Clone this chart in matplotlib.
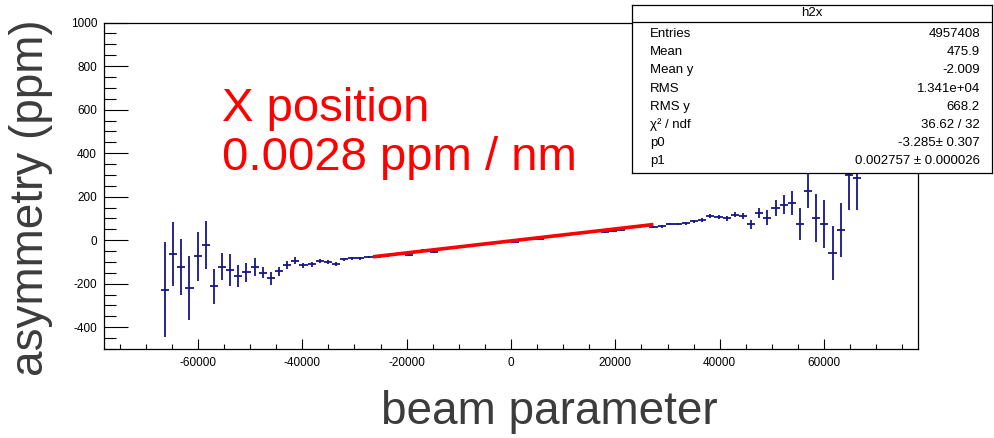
import numpy as np
import matplotlib
matplotlib.use("Agg")
import matplotlib.pyplot as plt
from matplotlib.ticker import MultipleLocator

plt.rcParams['font.family'] = ['Liberation Sans', 'DejaVu Sans']
plt.rcParams['axes.unicode_minus'] = False

# profile histogram h2x: 100 bins from -78000 to 78000, filled bins 7..92
N_BINS = 100
X_MIN, X_MAX = -78000, 78000
FIRST_BIN = 7

asym = [-227, -64, -123, -221, -74, -23, -212, -121, -137, -164, -147, -123, -150,
        -176, -143, -115, -94, -116, -111, -94, -100, -109, -88, -84, -84, -77,
        -76, -72, -64, -60, -66, -53, -47, -53, -39, -37, -30, -27, -24, -17,
        -15, -10, -4, -9, 4, 6, 4, 17, 21, 23, 30, 33, 36, 43, 39, 44, 48, 60,
        62, 69,
        61, 64, 74, 74, 77, 87, 93, 112, 106, 100, 118, 111, 73, 125, 104, 146,
        164, 172, 74, 227, 103, 74, -58, 46, 300, 284]
asym_err = [218, 147, 127, 148, 113, 111, 80, 62, 72, 52, 44, 41, 25, 28, 21, 18,
            15, 10, 10, 9, 8, 8, 7, 6, 6, 6,
            6, 6, 5, 5, 5, 5, 5, 5, 5, 5, 5, 5, 5, 5, 5, 5, 5, 5, 5, 5, 5, 5, 5,
            5, 5, 5, 5, 5, 5, 5, 6, 6, 6, 6,
            6, 6, 6, 6, 7, 7, 8, 8, 9, 10, 11, 13, 20, 23, 33, 37, 45, 54, 75, 78,
            111, 112, 124, 124, 160, 143]

# linear fit pol1
p0 = -3.285
p1 = 0.002757
fit_range = [-26100, 26950]

stat_names = ["Entries", "Mean", "Mean y", "RMS", "RMS y", "\u03c7\u00b2 / ndf", "p0", "p1"]
stat_values = ["4957408", "475.9", "-2.009", "1.341e+04", "668.2", "36.62 / 32",
               "-3.285\u00b1 0.307", "0.002757 \u00b1 0.000026"]

W, H = 995, 438
fig = plt.figure(figsize=(W / 100, H / 100), dpi=100)
ax = fig.add_axes([104 / W, 1 - 349 / H, (918 - 104) / W, (349 - 22.6) / H])

edges = np.linspace(X_MIN, X_MAX, N_BINS + 1)
centers = 0.5 * (edges[:-1] + edges[1:])
xs = centers[FIRST_BIN:FIRST_BIN + len(asym)]
half_w = (edges[1] - edges[0]) / 2

navy = '#161688'
ax.errorbar(xs, asym, yerr=asym_err, xerr=half_w, fmt='none',
            ecolor=navy, elinewidth=1.3, capsize=0, zorder=2)

fx = np.array(fit_range)
ax.plot(fx, p0 + p1 * fx, color='red', lw=2.6, zorder=3)

ax.set_xlim(X_MIN, X_MAX)
ax.set_ylim(-500, 1000)
ax.xaxis.set_major_locator(MultipleLocator(20000))
ax.xaxis.set_minor_locator(MultipleLocator(5000))
ax.yaxis.set_major_locator(MultipleLocator(200))
ax.yaxis.set_minor_locator(MultipleLocator(50))
ax.tick_params(axis='y', which='major', direction='in', length=17.3, width=0.8,
               labelsize=8.5, pad=5, right=False)
ax.tick_params(axis='y', which='minor', direction='in', length=8.6, width=0.8)
ax.tick_params(axis='x', which='major', direction='in', length=7, width=0.8,
               labelsize=8.5, pad=6, top=False)
ax.tick_params(axis='x', which='minor', direction='in', length=3.5, width=0.8)
ax.set_yticks([-400, -200, 0, 200, 400, 600, 800, 1000])
for s in ax.spines.values():
    s.set_linewidth(0.9)

fig.text(222 / W, 1 - 121 / H, "X position", color='red', fontsize=34,
         ha='left', va='baseline')
fig.text(222 / W, 1 - 170 / H, "0.0028 ppm / nm", color='red', fontsize=34,
         ha='left', va='baseline')

fig.text(549 / W, 1 - 424 / H, "beam parameter", color='#3c3c3c', fontsize=33,
         ha='center', va='baseline')
fig.text(31 / W, 1 - 197.5 / H, "asymmetry (ppm)", color='#3c3c3c', fontsize=33,
         ha='center', va='center', rotation=90)

# stats box
bx0, bx1, by0, by1 = 632, 992, 5, 173
sax = fig.add_axes([bx0 / W, 1 - by1 / H, (bx1 - bx0) / W, (by1 - by0) / H])
sax.set_xticks([])
sax.set_yticks([])
sax.set_facecolor('white')
for s in sax.spines.values():
    s.set_linewidth(0.9)
bh = by1 - by0
sax.axhline((by1 - 22) / bh, color='black', lw=0.9)
sax.text(0.5, (by1 - 13) / bh, "h2x", fontsize=9.5, ha='center', va='center')
for i, (n, v) in enumerate(zip(stat_names, stat_values)):
    yy = (by1 - (34 + 18.2 * i)) / bh
    sax.text(18 / (bx1 - bx0), yy, n, fontsize=9.5, ha='left', va='center')
    sax.text((980 - bx0) / (bx1 - bx0), yy, v, fontsize=9.5, ha='right', va='center')

fig.savefig("out.png", dpi=100)
